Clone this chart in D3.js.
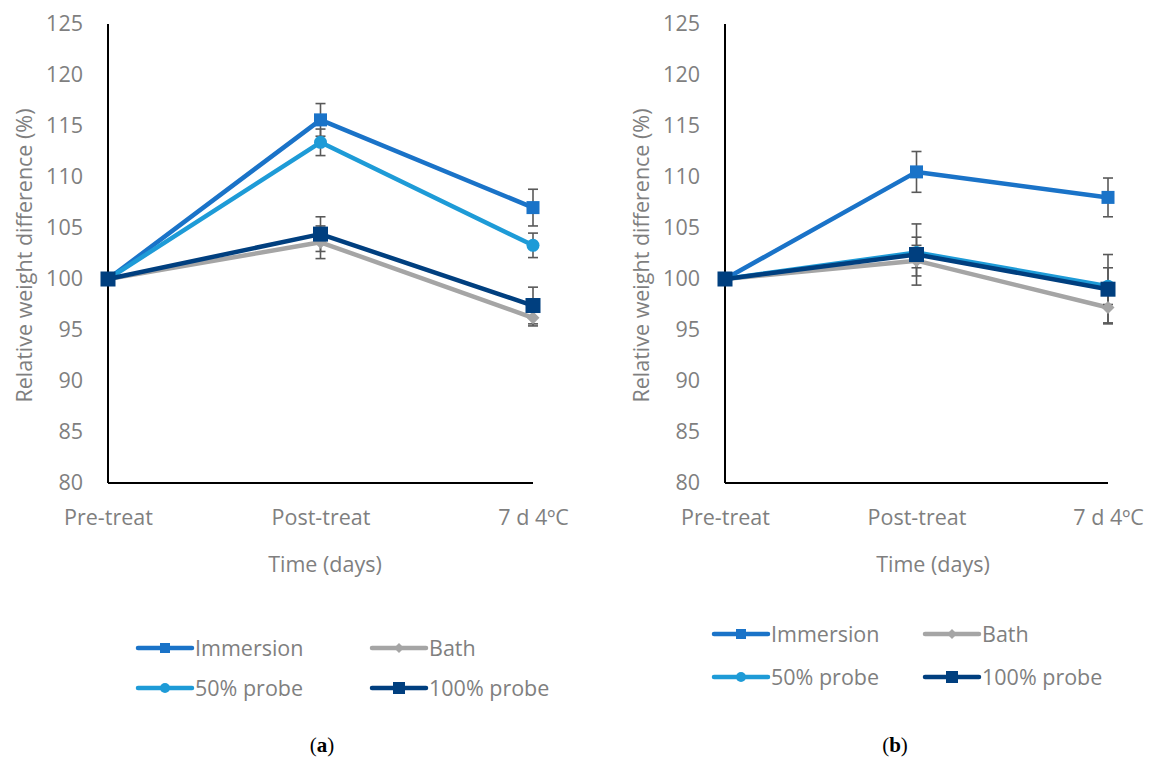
<!DOCTYPE html>
<html>
<head>
<meta charset="utf-8">
<script src="https://cdn.jsdelivr.net/npm/d3@7"></script>
<style>
  body { margin: 0; background: #fff; }
</style>
</head>
<body>
<div id="chart"></div>
<script>
// categories and ticks
const timePoints = ['Pre-treat', 'Post-treat', '7 d 4ºC'];
const yTicks = [80, 85, 90, 95, 100, 105, 110, 115, 120, 125];
const seriesNames = ['Immersion', 'Bath', '50% probe', '100% probe'];

// panel (a) means and error
const immersionA = [100, 115.6, 107.0];
const immersionErrA = [0, 1.6, 1.8];
const bathA = [100, 103.6, 96.2];
const bathErrA = [0, 1.6, 0.8];
const probe50A = [100, 113.4, 103.3];
const probe50ErrA = [0, 1.3, 1.2];
const probe100A = [100, 104.4, 97.4];
const probe100ErrA = [0, 1.7, 1.8];

// panel (b) means and error
const immersionB = [100, 110.5, 108.0];
const immersionErrB = [0, 2.0, 1.9];
const bathB = [100, 101.8, 97.2];
const bathErrB = [0, 1.5, 1.5];
const probe50B = [100, 102.6, 99.3];
const probe50ErrB = [0, 1.5, 1.8];
const probe100B = [100, 102.4, 99.0];
const probe100ErrB = [0, 3.0, 3.4];

const colors = {
  'Immersion': '#1a73c8',
  'Bath': '#a5a5a5',
  '50% probe': '#1e9bd7',
  '100% probe': '#003f7f'
};
const markers = {
  'Immersion': 'square',
  'Bath': 'diamond',
  '50% probe': 'circle',
  '100% probe': 'square'
};

const FONT = '"Open Sans", "Noto Sans", sans-serif';
const FS = 21.5;
const GREY = '#7f7f7f';

const W = 1153, H = 760;
const svg = d3.select('#chart').append('svg')
  .attr('width', W).attr('height', H)
  .style('font-family', FONT);

function drawMarker(g, kind, x, y, color, size) {
  if (kind === 'square') {
    g.append('rect')
      .attr('x', x - size / 2).attr('y', y - size / 2)
      .attr('width', size).attr('height', size)
      .attr('fill', color);
  } else if (kind === 'circle') {
    g.append('circle')
      .attr('cx', x).attr('cy', y).attr('r', size / 2)
      .attr('fill', color);
  } else {
    const s = size / 2;
    g.append('path')
      .attr('d', `M${x},${y - s}L${x + s},${y}L${x},${y + s}L${x - s},${y}Z`)
      .attr('fill', color);
  }
}

function renderPanel(opts) {
  const g = svg.append('g');
  const x = d3.scalePoint().domain(timePoints).range([opts.left, opts.right]);
  const y = d3.scaleLinear().domain([80, 125]).range([483, 24]);

  // y tick labels
  g.append('g')
    .attr('transform', `translate(${opts.left},0)`)
    .call(d3.axisLeft(y).tickValues(yTicks).tickSize(0).tickPadding(25))
    .call(a => a.select('.domain').remove())
    .selectAll('text')
    .style('font-size', FS + 'px')
    .style('font-family', FONT)
    .attr('fill', GREY);

  // x tick labels
  g.append('g')
    .attr('transform', 'translate(0,483)')
    .call(d3.axisBottom(x).tickSize(0).tickPadding(27))
    .call(a => a.select('.domain').remove())
    .selectAll('text')
    .style('font-size', FS + 'px')
    .style('font-family', FONT)
    .attr('fill', GREY);

  // axis lines
  g.append('line')
    .attr('x1', opts.left).attr('x2', opts.left)
    .attr('y1', y(125)).attr('y2', y(80))
    .attr('stroke', '#000').attr('stroke-width', 2);
  g.append('line')
    .attr('x1', opts.left).attr('x2', opts.right)
    .attr('y1', y(80)).attr('y2', y(80))
    .attr('stroke', '#000').attr('stroke-width', 2);

  // axis titles
  g.append('text')
    .attr('transform', `translate(${opts.left - 76},${y(102.3)}) rotate(-90)`)
    .attr('text-anchor', 'middle')
    .style('font-size', FS + 'px')
    .attr('fill', GREY)
    .text('Relative weight difference (%)');
  g.append('text')
    .attr('x', opts.titleX)
    .attr('y', 572)
    .attr('text-anchor', 'middle')
    .style('font-size', FS + 'px')
    .attr('fill', GREY)
    .text('Time (days)');

  const line = d3.line().x((d, i) => x(timePoints[i])).y(d => y(d));

  opts.series.forEach(s => {
    g.append('path')
      .datum(s.values)
      .attr('d', line)
      .attr('fill', 'none')
      .attr('stroke', colors[s.name])
      .attr('stroke-width', 4.5)
      .attr('stroke-linejoin', 'round');
  });

  // error bars
  opts.series.forEach(s => {
    s.values.forEach((v, i) => {
      const e = s.err[i];
      if (!e) return;
      const cx = x(timePoints[i]);
      const eg = g.append('g').attr('stroke', '#595959').attr('stroke-width', 1.6);
      eg.append('line').attr('x1', cx).attr('x2', cx).attr('y1', y(v + e)).attr('y2', y(v - e));
      eg.append('line').attr('x1', cx - 5).attr('x2', cx + 5).attr('y1', y(v + e)).attr('y2', y(v + e));
      eg.append('line').attr('x1', cx - 5).attr('x2', cx + 5).attr('y1', y(v - e)).attr('y2', y(v - e));
    });
  });

  opts.series.forEach(s => {
    const size = s.name === '100% probe' ? 15 : s.name === 'Bath' ? 13 : 13;
    s.values.forEach((v, i) => {
      drawMarker(g, markers[s.name], x(timePoints[i]), y(v), colors[s.name], size);
    });
  });

  // legend
  const leg = g.append('g');
  const legCols = [opts.legX, opts.legX + opts.legGap];
  const legRows = [opts.legY, opts.legY + opts.legRowGap];
  seriesNames.forEach((name, i) => {
    const lx = legCols[i % 2];
    const ly = legRows[Math.floor(i / 2)];
    leg.append('line')
      .attr('x1', lx).attr('x2', lx + 54)
      .attr('y1', ly).attr('y2', ly)
      .attr('stroke', colors[name]).attr('stroke-width', 4.5)
      .attr('stroke-linecap', 'round');
    const ms = name === 'Bath' ? 10 : name === '100% probe' ? 12 : 10;
    drawMarker(leg, markers[name], lx + 27, ly, colors[name], ms);
    leg.append('text')
      .attr('x', lx + 57).attr('y', ly + 8)
      .style('font-size', FS + 'px')
      .attr('fill', GREY)
      .text(name);
  });

  // caption
  const cap = g.append('text')
    .attr('x', opts.capX)
    .attr('y', 752)
    .attr('text-anchor', 'middle')
    .style('font-family', '"Liberation Serif", "DejaVu Serif", serif')
    .style('font-size', '21px')
    .attr('fill', '#000');
  cap.append('tspan').text('(');
  cap.append('tspan').attr('font-weight', 'bold').text(opts.caption);
  cap.append('tspan').text(')');
}

renderPanel({
  left: 108, right: 533, titleX: 325, capX: 322,
  legX: 138, legGap: 234, legY: 648, legRowGap: 40,
  caption: 'a',
  series: [
    { name: 'Immersion', values: immersionA, err: immersionErrA },
    { name: 'Bath', values: bathA, err: bathErrA },
    { name: '50% probe', values: probe50A, err: probe50ErrA },
    { name: '100% probe', values: probe100A, err: probe100ErrA }
  ]
});

renderPanel({
  left: 725, right: 1108, titleX: 933, capX: 895,
  legX: 714, legGap: 211, legY: 634, legRowGap: 43,
  caption: 'b',
  series: [
    { name: 'Immersion', values: immersionB, err: immersionErrB },
    { name: 'Bath', values: bathB, err: bathErrB },
    { name: '50% probe', values: probe50B, err: probe50ErrB },
    { name: '100% probe', values: probe100B, err: probe100ErrB }
  ]
});
</script>
</body>
</html>
